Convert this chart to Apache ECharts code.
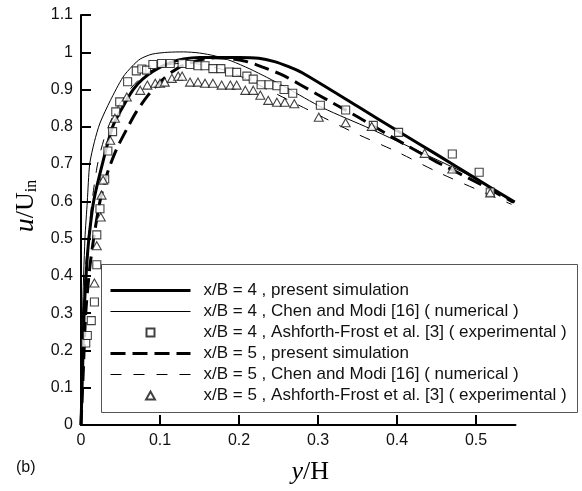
<!DOCTYPE html>
<html>
<head>
<meta charset="utf-8">
<script src="https://cdn.jsdelivr.net/npm/echarts@6/dist/echarts.min.js"></script>
<style>
    html, body { margin: 0; padding: 0; background: #fff; }
    #chart { width: 582px; height: 491px; }
</style>
</head>
<body>
<div id="chart"></div>
<script>
// 刻度
let xTicks = [0, 0.1, 0.2, 0.3, 0.4, 0.5];
let yTicks = [0, 0.1, 0.2, 0.3, 0.4, 0.5, 0.6, 0.7, 0.8, 0.9, 1, 1.1];

let seriesNames = [
    'x/B = 4 , present simulation',
    'x/B = 4 , Chen and Modi [16] ( numerical )',
    'x/B = 4 , Ashforth-Frost et al. [3] ( experimental )',
    'x/B = 5 , present simulation',
    'x/B = 5 , Chen and Modi [16] ( numerical )',
    'x/B = 5 , Ashforth-Frost et al. [3] ( experimental )'
];

// [y/H, u/Uin]
let present4 = [[0,0],[0.002,0.15],[0.004,0.3],[0.007,0.42],[0.01,0.5],[0.016,0.6],[0.027,0.7],[0.04,0.8],
    [0.052,0.85],[0.066,0.9],[0.078,0.928],[0.092,0.95],[0.113,0.972],[0.13,0.982],[0.15,0.986],[0.2,0.986],
    [0.225,0.984],[0.245,0.975],[0.262,0.962],[0.28,0.945],[0.35,0.855],[0.4,0.79],[0.45,0.726],[0.5,0.661],[0.549,0.598]];

let chen4 = [[0,0],[0.002,0.3],[0.005,0.5],[0.008,0.6],[0.011,0.7],[0.017,0.76],[0.024,0.81],[0.037,0.87],
    [0.053,0.933],[0.065,0.963],[0.075,0.982],[0.09,0.995],[0.11,1.0],[0.13,1.001],[0.15,0.998],[0.17,0.99],
    [0.19,0.977],[0.214,0.955],[0.235,0.933],[0.26,0.905],[0.306,0.851],[0.366,0.795],[0.433,0.729],[0.488,0.673],[0.545,0.602]];

let exp4 = [[0.006,0.22],[0.008,0.24],[0.013,0.28],[0.017,0.33],[0.02,0.43],[0.02,0.51],[0.024,0.58],[0.03,0.66],
    [0.034,0.735],[0.04,0.787],[0.044,0.84],[0.049,0.867],[0.059,0.921],[0.07,0.95],[0.077,0.955],[0.083,0.952],
    [0.091,0.967],[0.102,0.97],[0.113,0.97],[0.128,0.97],[0.138,0.967],[0.148,0.964],[0.157,0.964],[0.167,0.956],
    [0.177,0.956],[0.188,0.947],[0.197,0.946],[0.21,0.936],[0.218,0.928],[0.228,0.913],[0.238,0.913],[0.248,0.91],
    [0.257,0.9],[0.268,0.89],[0.303,0.858],[0.335,0.845],[0.37,0.804],[0.402,0.785],[0.47,0.727],[0.504,0.678],[0.518,0.625]];

let present5 = [[0,0],[0.003,0.15],[0.006,0.3],[0.011,0.42],[0.016,0.5],[0.024,0.6],[0.034,0.68],[0.045,0.74],
    [0.057,0.79],[0.07,0.84],[0.085,0.885],[0.1,0.92],[0.115,0.947],[0.13,0.966],[0.15,0.979],
    [0.17,0.985],[0.19,0.983],[0.21,0.975],[0.23,0.96],[0.256,0.938],[0.3,0.886],[0.35,0.827],[0.4,0.765],
    [0.45,0.706],[0.5,0.652],[0.547,0.598]];

let chen5 = [[0,0],[0.002,0.2],[0.005,0.4],[0.009,0.5],[0.014,0.6],[0.021,0.7],[0.031,0.78],[0.043,0.84],
    [0.058,0.89],[0.075,0.93],[0.09,0.952],[0.11,0.966],[0.13,0.971],[0.15,0.968],[0.18,0.953],[0.21,0.928],
    [0.24,0.896],[0.288,0.845],[0.344,0.786],[0.4,0.733],[0.45,0.68],[0.5,0.633],[0.545,0.592]];

let exp5 = [[0.017,0.381],[0.02,0.481],[0.025,0.558],[0.026,0.617],[0.028,0.657],[0.037,0.764],[0.043,0.823],
    [0.058,0.88],[0.075,0.898],[0.084,0.912],[0.094,0.917],[0.1,0.917],[0.106,0.92],[0.115,0.93],[0.123,0.936],
    [0.128,0.936],[0.138,0.92],[0.148,0.92],[0.157,0.917],[0.167,0.917],[0.178,0.912],[0.189,0.912],[0.197,0.912],
    [0.208,0.898],[0.218,0.898],[0.227,0.885],[0.237,0.871],[0.248,0.866],[0.258,0.866],[0.27,0.862],[0.301,0.826],
    [0.335,0.811],[0.368,0.801],[0.435,0.729],[0.47,0.687],[0.518,0.623]];

let chart = echarts.init(document.getElementById('chart'), null, {renderer: 'canvas'});

let sans = '"Liberation Sans", Arial, sans-serif';
let serif = '"Liberation Serif", "Times New Roman", serif';
let squarePath = 'path://M0,0H10V10H0Z';
let trianglePath = 'path://M5,0L10,9H0Z';

// 线型: [线宽, 虚线]
let lineStyles = [
    {width: 3, type: 'solid'},
    {width: 1, type: 'solid'},
    null,
    {width: 3, type: [15, 7]},
    {width: 1, type: [11, 12]},
    null
];

function lineSeries(i, data) {
    return {
        name: seriesNames[i], type: 'line', data: data, symbol: 'none', smooth: 0.25,
        itemStyle: {color: '#000'},
        lineStyle: Object.assign({color: '#000'}, lineStyles[i]), z: 3
    };
}

function scatterSeries(i, data, symbol, size) {
    return {
        name: seriesNames[i], type: 'scatter', data: data, symbol: symbol, symbolSize: size, symbolKeepAspect: true,
        itemStyle: {color: '#fff', borderColor: '#111', borderWidth: 1.1}, z: 4
    };
}

let axisCommon = {
    axisLine: {lineStyle: {color: '#000', width: 2}},
    axisTick: {inside: true, length: 10, lineStyle: {color: '#000', width: 2}},
    splitLine: {show: false},
    axisLabel: {color: '#111', fontSize: 16, fontFamily: sans, margin: 8}
};

// 图例: 线条不显示圆点
let legendData = seriesNames.map(function (name, i) {
    if (!lineStyles[i]) {
        return {name: name};
    }
    return {name: name, itemStyle: {opacity: 0}, lineStyle: Object.assign({color: '#000'}, lineStyles[i])};
});

chart.setOption({
    backgroundColor: '#fff',
    animation: false,
    grid: {left: 81, top: 15, right: 66.5, bottom: 66},
    xAxis: Object.assign({}, axisCommon, {
        type: 'value', min: 0, max: 0.55,
        axisTick: Object.assign({}, axisCommon.axisTick, {customValues: xTicks}),
        axisLabel: Object.assign({}, axisCommon.axisLabel, {customValues: xTicks}),
        name: '{i|y}{n|/H}', nameLocation: 'middle', nameGap: 34,
        nameTextStyle: {
            padding: [0, 0, 0, 24],
            rich: {
                i: {fontFamily: serif, fontStyle: 'italic', fontSize: 26, color: '#000'},
                n: {fontFamily: serif, fontSize: 26, color: '#000'}
            }
        }
    }),
    yAxis: Object.assign({}, axisCommon, {
        type: 'value', min: 0, max: 1.1,
        axisTick: Object.assign({}, axisCommon.axisTick, {customValues: yTicks}),
        axisLabel: Object.assign({}, axisCommon.axisLabel, {customValues: yTicks}),
        name: '{i|u}{n|/U}{s|in}', nameLocation: 'middle', nameGap: 39, nameRotate: 90,
        nameTextStyle: {
            padding: [0, 0, 0, 28],
            rich: {
                i: {fontFamily: serif, fontStyle: 'italic', fontSize: 28, color: '#000'},
                n: {fontFamily: serif, fontSize: 26, color: '#000'},
                s: {fontFamily: serif, fontSize: 16, color: '#000', verticalAlign: 'bottom', padding: [12, 0, 0, 0]}
            }
        }
    }),
    legend: {
        orient: 'vertical', left: 109, top: 282, padding: 0,
        itemWidth: 80, itemHeight: 8, itemGap: 4,
        symbolKeepAspect: true,
        textStyle: {color: '#111', fontSize: 17, fontFamily: sans, padding: [0, 0, 0, 8]},
        data: legendData
    },
    graphic: [
        {type: 'rect', left: 101, top: 264, shape: {width: 476, height: 148},
            style: {fill: '#fff', stroke: '#555', lineWidth: 1}, z: 1},
        {type: 'text', left: 16, top: 460, style: {text: '(b)', fontSize: 16, fontFamily: sans, fill: '#111'}}
    ],
    series: [
        lineSeries(0, present4),
        lineSeries(1, chen4),
        scatterSeries(2, exp4, squarePath, 8),
        lineSeries(3, present5),
        lineSeries(4, chen5),
        scatterSeries(5, exp5, trianglePath, 9)
    ]
});
</script>
</body>
</html>
